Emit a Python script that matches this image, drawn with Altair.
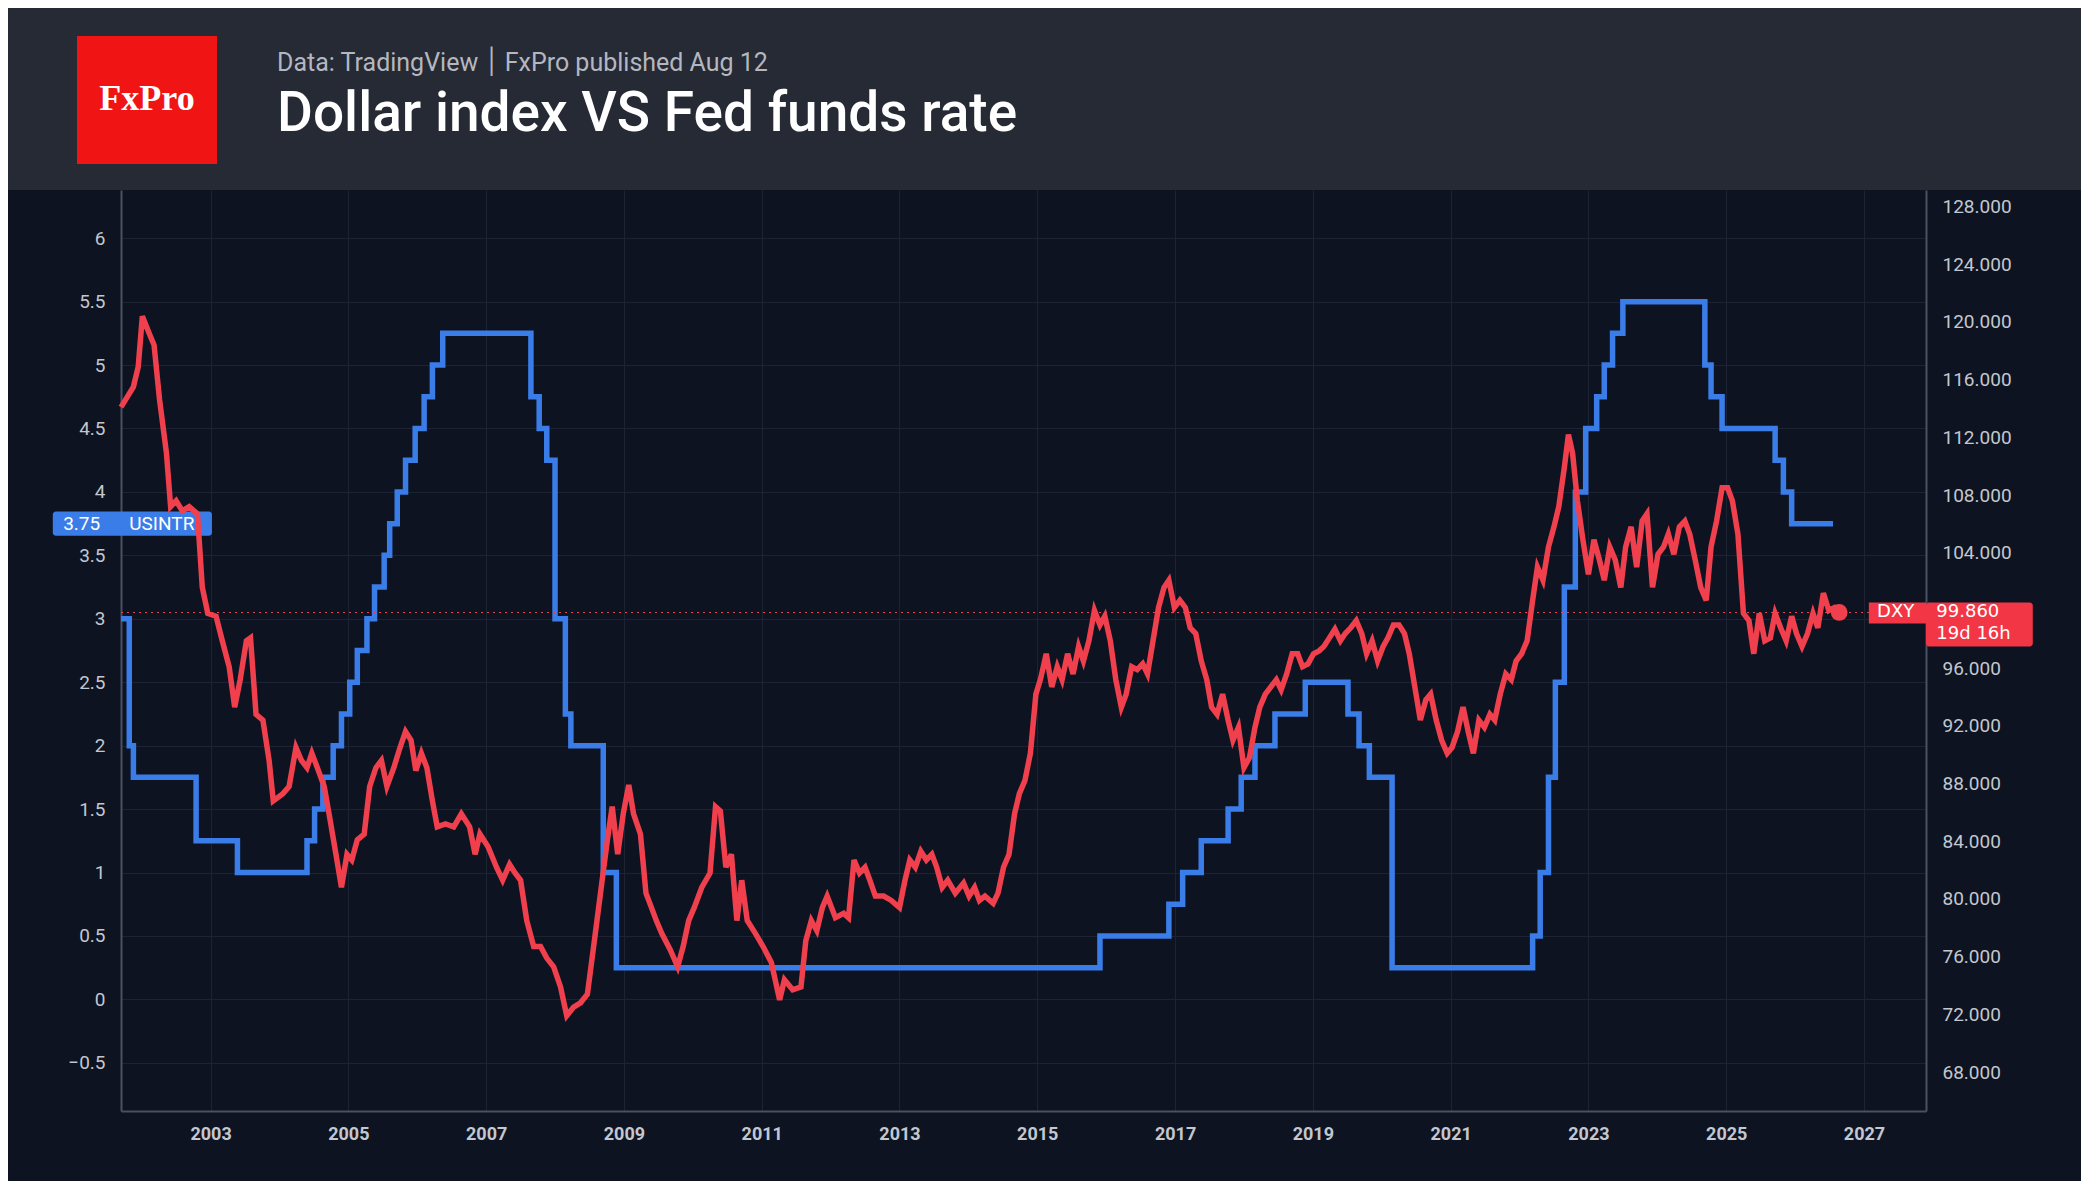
import altair as alt
import pandas as pd

# Fed funds rate (USINTR), level changes: start year -> rate
fed_year = [2001.70, 2001.82, 2001.88, 2002.79, 2003.39, 2004.40, 2004.51, 2004.63, 2004.78,
            2004.90, 2005.02, 2005.13, 2005.27, 2005.38, 2005.52, 2005.60, 2005.71, 2005.83,
            2005.97, 2006.10, 2006.22, 2006.37, 2007.65, 2007.77, 2007.88, 2008.00, 2008.15,
            2008.23, 2008.70, 2008.89, 2015.91, 2016.91, 2017.11, 2017.38, 2017.77, 2017.96,
            2018.16, 2018.45, 2018.89, 2019.51, 2019.67, 2019.82, 2020.15, 2022.19, 2022.30,
            2022.42, 2022.52, 2022.65, 2022.81, 2022.96, 2023.12, 2023.23, 2023.35, 2023.50,
            2024.69, 2024.78, 2024.94, 2025.71, 2025.83, 2025.95, 2026.55]
fed_rate = [3.0, 2.0, 1.75, 1.25, 1.0, 1.25, 1.5, 1.75, 2.0,
            2.25, 2.5, 2.75, 3.0, 3.25, 3.5, 3.75, 4.0, 4.25,
            4.5, 4.75, 5.0, 5.25, 4.75, 4.5, 4.25, 3.0, 2.25,
            2.0, 1.0, 0.25, 0.5, 0.75, 1.0, 1.25, 1.5, 1.75,
            2.0, 2.25, 2.5, 2.25, 2.0, 1.75, 0.25, 0.5, 1.0,
            1.75, 2.5, 3.25, 4.0, 4.5, 4.75, 5.0, 5.25, 5.5,
            5.0, 4.75, 4.5, 4.25, 4.0, 3.75, 3.75]

# Dollar index (DXY)
dxy_year = [2001.70, 2001.88, 2001.95, 2002.01, 2002.11, 2002.18, 2002.26, 2002.36, 2002.42, 2002.50,
            2002.59, 2002.69, 2002.81, 2002.88, 2002.96, 2003.08, 2003.17, 2003.27, 2003.35, 2003.43,
            2003.52, 2003.58, 2003.66, 2003.76, 2003.85, 2003.91, 2004.05, 2004.14, 2004.24, 2004.32,
            2004.40, 2004.47, 2004.55, 2004.65, 2004.72, 2004.82, 2004.90, 2004.98, 2005.05, 2005.13,
            2005.23, 2005.31, 2005.40, 2005.48, 2005.56, 2005.66, 2005.75, 2005.83, 2005.91, 2005.98,
            2006.06, 2006.14, 2006.22, 2006.29, 2006.41, 2006.53, 2006.64, 2006.76, 2006.84, 2006.91,
            2007.03, 2007.15, 2007.24, 2007.34, 2007.42, 2007.50, 2007.59, 2007.69, 2007.79, 2007.88,
            2007.98, 2008.08, 2008.17, 2008.27, 2008.37, 2008.47, 2008.56, 2008.66, 2008.76, 2008.83,
            2008.91, 2008.99, 2009.07, 2009.14, 2009.24, 2009.32, 2009.40, 2009.47, 2009.55, 2009.67,
            2009.78, 2009.86, 2009.94, 2010.02, 2010.13, 2010.25, 2010.33, 2010.40, 2010.48, 2010.56,
            2010.64, 2010.71, 2010.79, 2010.91, 2011.02, 2011.14, 2011.26, 2011.33, 2011.45, 2011.57,
            2011.64, 2011.72, 2011.80, 2011.88, 2011.95, 2012.07, 2012.19, 2012.26, 2012.34, 2012.42,
            2012.50, 2012.57, 2012.65, 2012.77, 2012.88, 2013.00, 2013.08, 2013.15, 2013.23, 2013.31,
            2013.39, 2013.47, 2013.54, 2013.62, 2013.70, 2013.81, 2013.93, 2014.01, 2014.09, 2014.16,
            2014.24, 2014.36, 2014.43, 2014.51, 2014.59, 2014.67, 2014.74, 2014.82, 2014.90, 2014.98,
            2015.05, 2015.13, 2015.21, 2015.29, 2015.36, 2015.44, 2015.52, 2015.60, 2015.67, 2015.75,
            2015.83, 2015.91, 2015.98, 2016.06, 2016.14, 2016.22, 2016.29, 2016.37, 2016.45, 2016.53,
            2016.60, 2016.68, 2016.76, 2016.84, 2016.91, 2016.99, 2017.07, 2017.15, 2017.22, 2017.30,
            2017.38, 2017.46, 2017.53, 2017.61, 2017.69, 2017.77, 2017.84, 2017.92, 2018.00, 2018.08,
            2018.16, 2018.23, 2018.31, 2018.39, 2018.47, 2018.54, 2018.62, 2018.70, 2018.78, 2018.85,
            2018.93, 2019.01, 2019.09, 2019.16, 2019.24, 2019.32, 2019.40, 2019.47, 2019.55, 2019.63,
            2019.71, 2019.78, 2019.86, 2019.94, 2020.02, 2020.09, 2020.17, 2020.25, 2020.33, 2020.40,
            2020.48, 2020.56, 2020.64, 2020.71, 2020.79, 2020.87, 2020.95, 2021.02, 2021.10, 2021.18,
            2021.26, 2021.33, 2021.41, 2021.49, 2021.57, 2021.64, 2021.72, 2021.80, 2021.88, 2021.95,
            2022.03, 2022.11, 2022.19, 2022.26, 2022.34, 2022.42, 2022.50, 2022.57, 2022.65, 2022.71,
            2022.77, 2022.84, 2022.92, 2023.00, 2023.08, 2023.16, 2023.23, 2023.31, 2023.39, 2023.47,
            2023.54, 2023.62, 2023.70, 2023.78, 2023.85, 2023.93, 2024.01, 2024.09, 2024.16, 2024.24,
            2024.32, 2024.40, 2024.47, 2024.55, 2024.63, 2024.71, 2024.78, 2024.86, 2024.94, 2025.02,
            2025.09, 2025.17, 2025.25, 2025.33, 2025.40, 2025.48, 2025.56, 2025.64, 2025.71, 2025.79,
            2025.87, 2025.95, 2026.02, 2026.10, 2026.18, 2026.26, 2026.33, 2026.41, 2026.49, 2026.57,
            2026.64]
dxy_value = [114.1, 115.5, 116.9, 120.4, 119.2, 118.4, 114.6, 110.9, 107.2, 107.6,
             106.9, 107.2, 106.7, 101.6, 99.8, 99.6, 97.9, 96.1, 93.3, 95.2,
             97.9, 98.1, 92.8, 92.4, 89.6, 86.8, 87.3, 87.8, 90.5, 89.6,
             89.1, 90.1, 89.1, 87.8, 85.9, 83.1, 80.8, 83.1, 82.7, 84.1,
             84.5, 87.8, 89.1, 89.6, 87.8, 89.1, 90.5, 91.6, 91.0, 88.9,
             90.1, 89.1, 86.8, 85.0, 85.2, 85.0, 85.9, 85.0, 83.1, 84.5,
             83.6, 82.2, 81.3, 82.4, 81.8, 81.3, 78.5, 76.7, 76.7, 75.9,
             75.3, 73.9, 71.9, 72.5, 72.8, 73.4, 76.7, 80.4, 84.1, 86.4,
             83.1, 85.9, 87.9, 85.9, 84.5, 80.4, 79.4, 78.5, 77.6, 76.5,
             75.3, 76.7, 78.5, 79.4, 80.8, 81.8, 86.4, 86.1, 82.2, 83.1,
             78.5, 81.3, 78.5, 77.6, 76.7, 75.6, 73.0, 74.4, 73.7, 73.9,
             77.1, 78.5, 77.8, 79.4, 80.2, 78.7, 79.0, 78.7, 82.7, 81.8,
             82.2, 81.3, 80.2, 80.2, 79.9, 79.4, 81.3, 82.7, 82.2, 83.3,
             82.7, 83.1, 82.2, 80.8, 81.3, 80.4, 81.1, 80.2, 80.8, 79.9,
             80.2, 79.7, 80.4, 82.2, 83.1, 85.9, 87.3, 88.2, 90.1, 94.2,
             95.3, 97.0, 94.7, 96.1, 95.2, 97.0, 95.6, 97.5, 96.5, 97.9,
             100.0, 99.0, 99.6, 97.9, 95.2, 93.3, 94.2, 96.1, 95.9, 96.3,
             95.6, 97.9, 100.2, 101.6, 102.1, 100.2, 100.7, 100.2, 98.8, 98.4,
             96.5, 95.2, 93.3, 92.8, 94.2, 92.4, 91.0, 91.9, 89.1, 89.8,
             91.9, 93.3, 94.2, 94.7, 95.2, 94.5, 95.6, 97.0, 97.0, 96.1,
             96.3, 97.0, 97.2, 97.5, 98.1, 98.7, 97.9, 98.4, 98.8, 99.3,
             98.4, 97.0, 97.9, 96.5, 97.5, 98.1, 99.0, 99.0, 98.4, 97.0,
             94.7, 92.4, 93.8, 94.2, 92.4, 91.0, 90.1, 90.5, 91.6, 93.3,
             91.5, 90.1, 92.4, 91.9, 92.8, 92.4, 94.2, 95.6, 95.2, 96.5,
             97.0, 97.9, 100.7, 103.0, 102.1, 104.4, 105.8, 107.2, 109.9, 112.2,
             110.9, 107.6, 104.9, 102.5, 104.9, 103.5, 102.1, 104.4, 103.5, 101.6,
             104.4, 105.8, 103.0, 106.2, 106.7, 101.6, 103.9, 104.4, 105.3, 103.9,
             105.8, 106.2, 105.3, 103.5, 101.6, 100.7, 104.4, 106.2, 108.5, 108.5,
             107.6, 105.3, 99.8, 99.3, 97.0, 99.8, 97.9, 98.1, 99.8, 98.8,
             97.9, 99.6, 98.4, 97.5, 98.4, 99.8, 98.8, 101.2, 100.0, 100.2,
             99.86]

year_ticks = [2003, 2005, 2007, 2009, 2011, 2013, 2015, 2017, 2019, 2021, 2023, 2025, 2027]
fed_ticks = [-0.5, 0, 0.5, 1, 1.5, 2, 2.5, 3, 3.5, 4, 4.5, 5, 5.5, 6]
dxy_ticks = [68, 72, 76, 80, 84, 88, 92, 96, 104, 108, 112, 116, 120, 124, 128]

fed = pd.DataFrame({"year": fed_year, "rate": fed_rate})
dxy = pd.DataFrame({"year": dxy_year, "dxy": dxy_value})
one = pd.DataFrame({"a": [0]})

W, H = 1805, 921
BG = "#0d1320"
GRID = "#1c2433"
LBL = "#c3c7cf"
FONT = "Roboto"

xscale = alt.Scale(domain=[2001.7, 2027.9], nice=False, zero=False)
xenc = alt.X("year:Q", scale=xscale, axis=alt.Axis(
    values=year_ticks, format="d", title=None, grid=True, gridColor=GRID,
    labelColor=LBL, labelFont=FONT, labelFontWeight="bold", labelFontSize=18,
    labelPadding=14, ticks=False, domainColor="#4a5162", domainWidth=2))

fed_y = alt.Y("rate:Q", scale=alt.Scale(domain=[-0.88, 6.38], nice=False, zero=False),
              axis=alt.Axis(values=fed_ticks, format="~g", title=None, orient="left",
                            grid=True, gridColor=GRID, labelColor=LBL, labelFont=FONT,
                            labelFontSize=19, labelPadding=16, ticks=False,
                            domainColor="#4a5162", domainWidth=2))
dxy_y = alt.Y("dxy:Q", scale=alt.Scale(domain=[65.3, 129.15], nice=False, zero=False),
              axis=alt.Axis(values=dxy_ticks, format=".3f", title=None, orient="right",
                            grid=False, labelColor=LBL, labelFont=FONT, labelFontSize=19,
                            labelPadding=16, ticks=False, domainColor="#4a5162",
                            domainWidth=2))

# header band and logo
header = alt.Chart(one).mark_rect(color="#262a34").encode(
    x=alt.value(-121), x2=alt.value(2092 - 121), y=alt.value(-190), y2=alt.value(0))
logo = alt.Chart(one).mark_rect(color="#f01414").encode(
    x=alt.value(-44), x2=alt.value(96), y=alt.value(-154), y2=alt.value(-26))
logo_txt = alt.Chart(one).mark_text(
    text="FxPro", font="Liberation Serif", fontSize=36, fontWeight="bold",
    color="white", align="center", baseline="middle").encode(
    x=alt.value(26), y=alt.value(-91))
sub = alt.Chart(one).mark_text(
    text="Data: TradingView  ׀  FxPro published Aug 12", font=FONT, fontSize=25,
    color="#b4b7bf", align="left", baseline="middle").encode(
    x=alt.value(156), y=alt.value(-127))
title = alt.Chart(one).mark_text(
    text="Dollar index VS Fed funds rate", font=FONT, fontSize=55, fontWeight=500,
    color="white", align="left", baseline="middle").encode(
    x=alt.value(156), y=alt.value(-76))

fed_line = alt.Chart(fed).mark_line(
    color="#3b7de8", strokeWidth=5.5, interpolate="step-after").encode(x=xenc, y=fed_y)
fed_box = alt.Chart(one).mark_rect(color="#3b7de8", cornerRadius=3).encode(
    x=alt.datum(2000.71), x2=alt.datum(2003.02), y=alt.datum(3.845), y2=alt.datum(3.655))
fed_lbl = alt.Chart(one).mark_text(
    text="3.75", font=FONT, fontSize=19, color="white", align="left", baseline="middle"
).encode(x=alt.datum(2000.86), y=alt.datum(3.75))
fed_lbl2 = alt.Chart(one).mark_text(
    text="USINTR", font=FONT, fontSize=19, color="white", align="left", baseline="middle"
).encode(x=alt.datum(2001.82), y=alt.datum(3.75))
fed_layer = alt.layer(header, logo, logo_txt, sub, title, fed_line, fed_box, fed_lbl, fed_lbl2)

last = dxy.tail(1)
dxy_line = alt.Chart(dxy).mark_line(color="#f0404e", strokeWidth=5.5).encode(x=xenc, y=dxy_y)
dxy_dot = alt.Chart(last).mark_point(color="#f0404e", filled=True, size=280, opacity=1).encode(
    x="year:Q", y="dxy:Q")
dxy_rule = alt.Chart(last).mark_rule(color="#f0404e", strokeDash=[2, 4], strokeWidth=1.2).encode(
    x=alt.datum(2001.7), x2=alt.datum(2027.07), y="dxy:Q")
box1 = alt.Chart(one).mark_rect(color="#f23645").encode(
    x=alt.datum(2027.07), x2=alt.datum(2027.9), y=alt.datum(100.55), y2=alt.datum(99.1))
box2 = alt.Chart(one).mark_rect(color="#f23645", cornerRadius=3).encode(
    x=alt.datum(2027.9), x2=alt.datum(2029.45), y=alt.datum(100.55), y2=alt.datum(97.5))
t1 = alt.Chart(one).mark_text(text="DXY", font="DejaVu Sans", fontSize=18, color="white",
                              align="left", baseline="middle").encode(
    x=alt.datum(2027.19), y=alt.datum(99.86))
t2 = alt.Chart(one).mark_text(text="99.860", font="DejaVu Sans", fontSize=18, color="white",
                              align="left", baseline="middle").encode(
    x=alt.datum(2028.05), y=alt.datum(99.86))
t3 = alt.Chart(one).mark_text(text="19d 16h", font="DejaVu Sans", fontSize=18, color="white",
                              align="left", baseline="middle").encode(
    x=alt.datum(2028.05), y=alt.datum(98.4))
dxy_layer = alt.layer(dxy_rule, dxy_line, dxy_dot, box1, box2, t1, t2, t3)

chart = alt.layer(fed_layer, dxy_layer).resolve_scale(y="independent").properties(
    width=W, height=H, background=BG,
    autosize=alt.AutoSizeParams(type="none"),
    padding={"left": 113, "top": 182, "right": 155, "bottom": 70},
).configure_view(stroke=None)

chart.save("out.html", embed_options={"renderer": "svg", "actions": False})
